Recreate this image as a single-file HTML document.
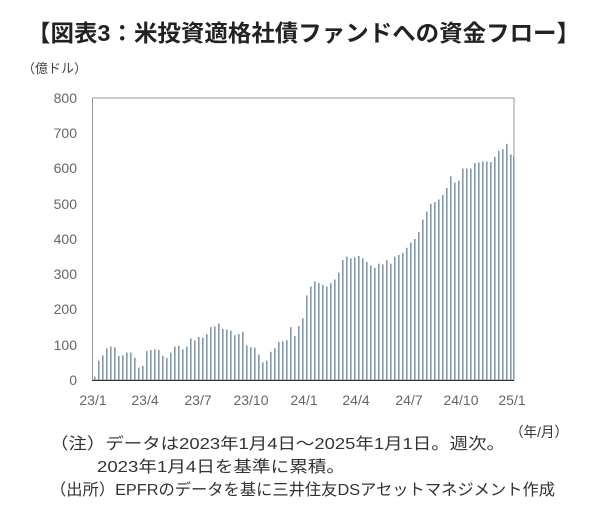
<!DOCTYPE html>
<html><head><meta charset="utf-8"><style>
html,body{margin:0;padding:0;background:#fff;width:600px;height:524px;overflow:hidden}
text{font-family:"Liberation Sans","Noto Sans CJK JP",sans-serif}
</style></head><body>
<svg width="600" height="524" viewBox="0 0 600 524" xmlns="http://www.w3.org/2000/svg">
<text x="27" y="41" font-size="23" font-weight="bold" fill="#222" textLength="553" lengthAdjust="spacingAndGlyphs">【図表3：米投資適格社債ファンドへの資金フロー】</text>
<text x="22" y="73" font-size="13" fill="#444">（億ドル）</text>
<g font-size="14" fill="#666" text-anchor="end">
<text x="77" y="103">800</text><text x="77" y="138">700</text><text x="77" y="173">600</text><text x="77" y="209">500</text><text x="77" y="244">400</text><text x="77" y="279">300</text><text x="77" y="314">200</text><text x="77" y="350">100</text><text x="77" y="385">0</text>
</g>
<rect x="92.5" y="98" width="421.5" height="282" fill="none" stroke="#999" stroke-width="1"/>
<g transform="translate(0,380) scale(1,-0.3525)" fill="#8299ae">
<rect x="94" y="0" width="1.6" height="10"/><rect x="98" y="0" width="1.6" height="55"/><rect x="102" y="0" width="1.6" height="70"/><rect x="106" y="0" width="1.6" height="90"/><rect x="110" y="0" width="1.6" height="95"/><rect x="114" y="0" width="1.6" height="93"/><rect x="118" y="0" width="1.6" height="68"/><rect x="122" y="0" width="1.6" height="70"/><rect x="126" y="0" width="1.6" height="78"/><rect x="130" y="0" width="1.6" height="78"/><rect x="134" y="0" width="1.6" height="63"/><rect x="138" y="0" width="1.6" height="35"/><rect x="142" y="0" width="1.6" height="40"/><rect x="146" y="0" width="1.6" height="82"/><rect x="150" y="0" width="1.6" height="85"/><rect x="154" y="0" width="1.6" height="87"/><rect x="158" y="0" width="1.6" height="85"/><rect x="162" y="0" width="1.6" height="68"/><rect x="166" y="0" width="1.6" height="62"/><rect x="170" y="0" width="1.6" height="78"/><rect x="174" y="0" width="1.6" height="95"/><rect x="178" y="0" width="1.6" height="97"/><rect x="182" y="0" width="1.6" height="87"/><rect x="186" y="0" width="1.6" height="95"/><rect x="190" y="0" width="1.6" height="118"/><rect x="194" y="0" width="1.6" height="112"/><rect x="198" y="0" width="1.6" height="122"/><rect x="202" y="0" width="1.6" height="120"/><rect x="206" y="0" width="1.6" height="130"/><rect x="210" y="0" width="1.6" height="150"/><rect x="214" y="0" width="1.6" height="152"/><rect x="218" y="0" width="1.6" height="160"/><rect x="222" y="0" width="1.6" height="145"/><rect x="226" y="0" width="1.6" height="143"/><rect x="230" y="0" width="1.6" height="140"/><rect x="234" y="0" width="1.6" height="127"/><rect x="238" y="0" width="1.6" height="130"/><rect x="242" y="0" width="1.6" height="137"/><rect x="246" y="0" width="1.6" height="98"/><rect x="250" y="0" width="1.6" height="93"/><rect x="254" y="0" width="1.6" height="92"/><rect x="258" y="0" width="1.6" height="72"/><rect x="262" y="0" width="1.6" height="50"/><rect x="266" y="0" width="1.6" height="55"/><rect x="270" y="0" width="1.6" height="80"/><rect x="274" y="0" width="1.6" height="90"/><rect x="278" y="0" width="1.6" height="108"/><rect x="282" y="0" width="1.6" height="110"/><rect x="286" y="0" width="1.6" height="113"/><rect x="290" y="0" width="1.6" height="150"/><rect x="294" y="0" width="1.6" height="125"/><rect x="298" y="0" width="1.6" height="153"/><rect x="302" y="0" width="1.6" height="175"/><rect x="306" y="0" width="1.6" height="240"/><rect x="310" y="0" width="1.6" height="265"/><rect x="314" y="0" width="1.6" height="280"/>
<rect x="318" y="0" width="1.6" height="275"/><rect x="322" y="0" width="1.6" height="270"/><rect x="326" y="0" width="1.6" height="265"/><rect x="330" y="0" width="1.6" height="275"/><rect x="334" y="0" width="1.6" height="285"/><rect x="338" y="0" width="1.6" height="305"/><rect x="342" y="0" width="1.6" height="340"/><rect x="346" y="0" width="1.6" height="350"/><rect x="350" y="0" width="1.6" height="345"/><rect x="354" y="0" width="1.6" height="348"/><rect x="358" y="0" width="1.6" height="352"/><rect x="362" y="0" width="1.6" height="345"/><rect x="366" y="0" width="1.6" height="335"/><rect x="370" y="0" width="1.6" height="325"/><rect x="374" y="0" width="1.6" height="318"/><rect x="378" y="0" width="1.6" height="330"/><rect x="382" y="0" width="1.6" height="328"/><rect x="386" y="0" width="1.6" height="340"/><rect x="390" y="0" width="1.6" height="330"/><rect x="394" y="0" width="1.6" height="350"/><rect x="398" y="0" width="1.6" height="355"/><rect x="402" y="0" width="1.6" height="360"/><rect x="406" y="0" width="1.6" height="375"/><rect x="410" y="0" width="1.6" height="390"/><rect x="414" y="0" width="1.6" height="400"/><rect x="418" y="0" width="1.6" height="420"/><rect x="422" y="0" width="1.6" height="455"/><rect x="426" y="0" width="1.6" height="478"/><rect x="430" y="0" width="1.6" height="500"/><rect x="434" y="0" width="1.6" height="505"/><rect x="438" y="0" width="1.6" height="512"/><rect x="442" y="0" width="1.6" height="525"/><rect x="446" y="0" width="1.6" height="545"/><rect x="450" y="0" width="1.6" height="578"/><rect x="454" y="0" width="1.6" height="560"/><rect x="458" y="0" width="1.6" height="565"/><rect x="462" y="0" width="1.6" height="600"/><rect x="466" y="0" width="1.6" height="600"/><rect x="470" y="0" width="1.6" height="600"/><rect x="474" y="0" width="1.6" height="615"/><rect x="478" y="0" width="1.6" height="617"/><rect x="482" y="0" width="1.6" height="620"/><rect x="486" y="0" width="1.6" height="620"/><rect x="490" y="0" width="1.6" height="618"/><rect x="494" y="0" width="1.6" height="633"/><rect x="498" y="0" width="1.6" height="650"/><rect x="502" y="0" width="1.6" height="655"/><rect x="506" y="0" width="1.6" height="670"/><rect x="510" y="0" width="1.6" height="640"/><rect x="513" y="0" width="1.5" height="635"/>
</g>
<line x1="92" y1="380.5" x2="514" y2="380.5" stroke="#333" stroke-width="1"/>
<g font-size="14" fill="#666" text-anchor="middle">
<text x="93" y="405">23/1</text><text x="145" y="405">23/4</text><text x="198" y="405">23/7</text><text x="251" y="405">23/10</text><text x="304" y="405">24/1</text><text x="356" y="405">24/4</text><text x="409" y="405">24/7</text><text x="461" y="405">24/10</text><text x="512" y="405">25/1</text>
</g>
<text x="510" y="437" font-size="14" fill="#333" textLength="58" lengthAdjust="spacingAndGlyphs">（年/月）</text>
<g font-size="16" fill="#333">
<text x="50" y="449" textLength="455" lengthAdjust="spacingAndGlyphs">（注）データは2023年1月4日～2025年1月1日。週次。</text>
<text x="97" y="472" textLength="248" lengthAdjust="spacingAndGlyphs">2023年1月4日を基準に累積。</text>
<text x="50" y="495" textLength="505" lengthAdjust="spacingAndGlyphs">（出所）EPFRのデータを基に三井住友DSアセットマネジメント作成</text>
</g>
</svg>
</body></html>
